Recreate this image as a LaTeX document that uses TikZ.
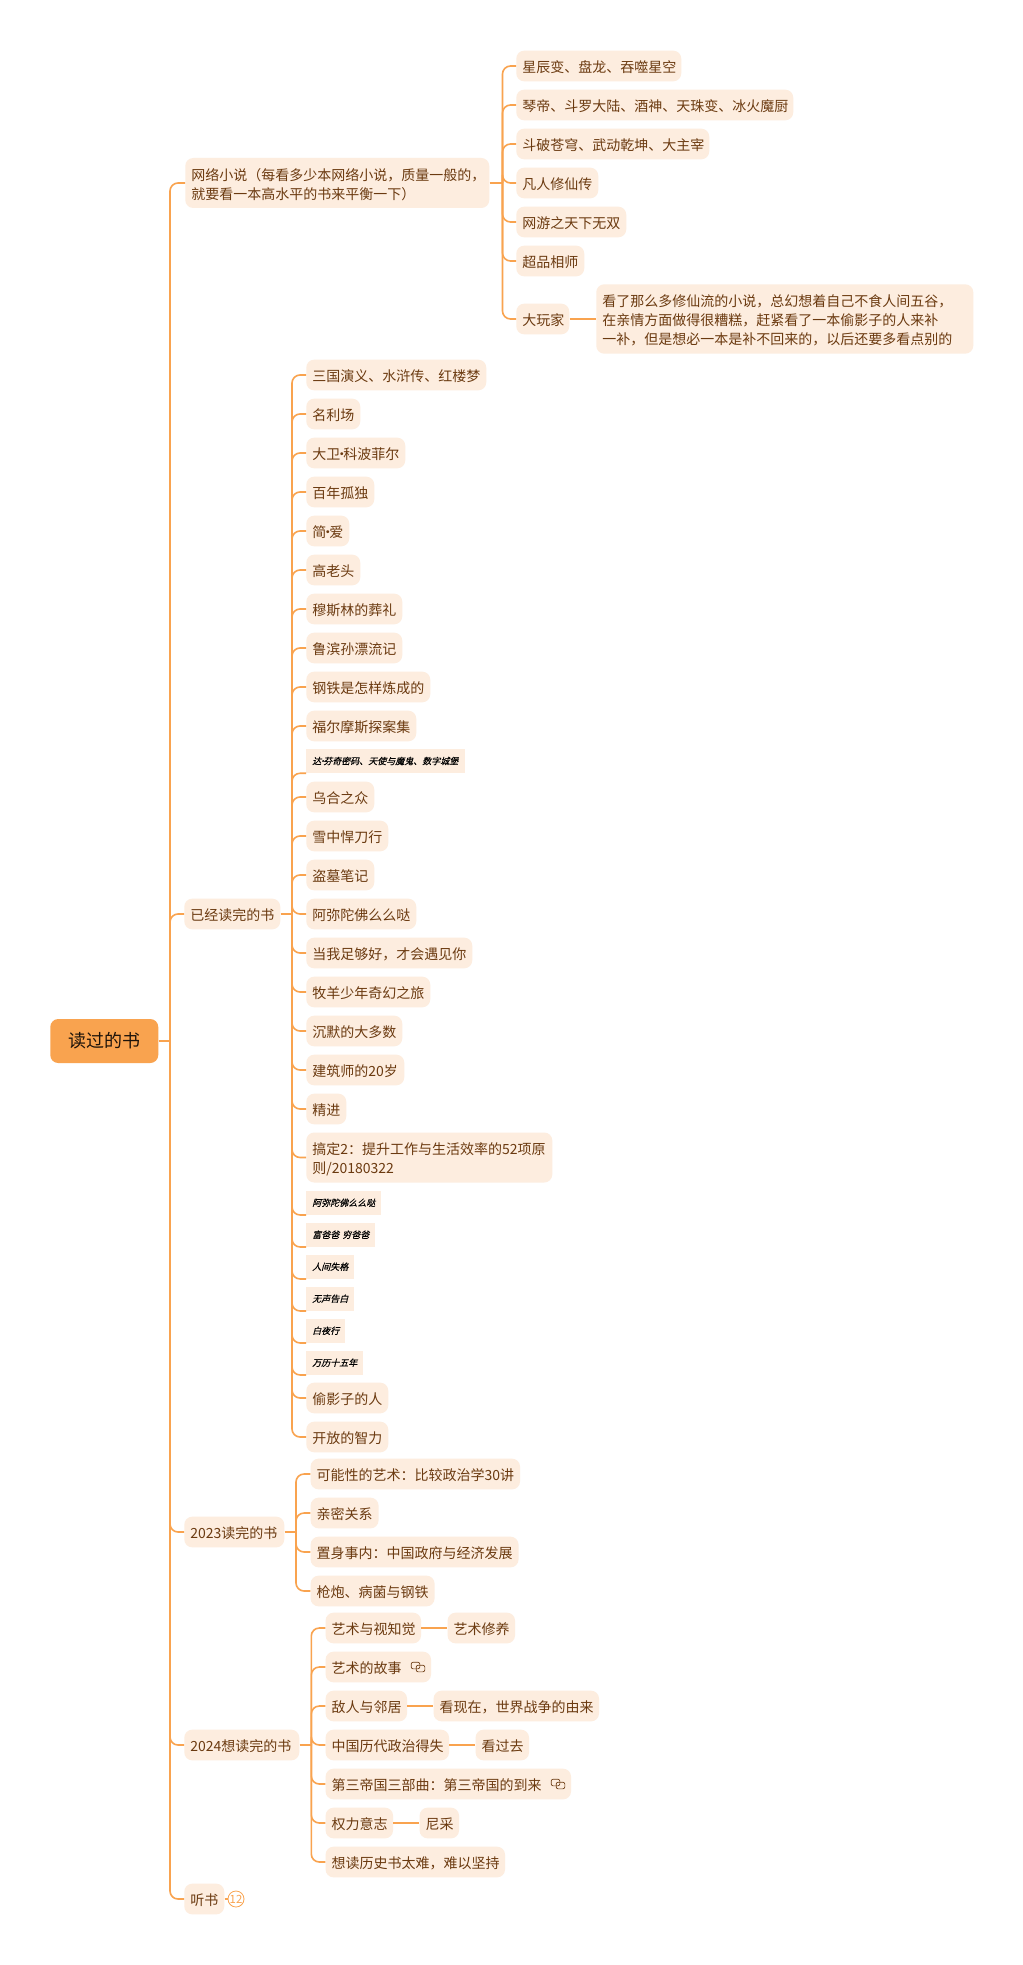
\documentclass[tikz,border=0pt]{standalone}
\usepackage{fontspec}
\setmainfont{Noto Sans CJK SC}
\newfontfamily\slantfont[FakeSlant=0.25,FakeBold=0.15]{Noto Sans CJK SC}
\usepackage{xcolor}
\definecolor{linkline}{HTML}{F9A34F}
\definecolor{boxfill}{HTML}{FDEDDF}
\definecolor{booktext}{HTML}{6B3A10}
\newcommand\bookdot{\kern-.39em·\kern-.39em}
\tikzset{
  book/.style={anchor=west, fill=boxfill, rounded corners=6pt, text=booktext, align=left,
    font=\fontsize{10.5}{14.25}\selectfont, inner xsep=4.5pt, inner ysep=0pt,
    execute at begin node={\rule{0pt}{11pt}},
    minimum height=23pt, text width=(#1-12)*0.75pt},
  oldbook/.style={anchor=west, fill=boxfill, text=black, align=left,
    font=\fontsize{6.75}{9}\slantfont, inner xsep=4.5pt, inner ysep=0pt,
    minimum height=18pt, text width=(#1-12)*0.75pt},
  branch/.style={draw=linkline, line width=1.2pt, rounded corners=6pt},
  stub/.style={draw=linkline, line width=1.5pt},
  linkicon/.style={draw=booktext, line width=0.5pt, rounded corners=1.5pt, minimum width=6.5pt, minimum height=5pt, inner sep=0pt}
}
\begin{document}
\begin{tikzpicture}[x=0.75pt,y=-0.75pt]
  \useasboundingbox[fill=white] (0,0) rectangle (1023,1965);
  % root
  \node[anchor=west, fill=linkline, rounded corners=6pt, font=\fontsize{13.5}{16}\selectfont, text=black!85!brown,
    minimum width=81pt, minimum height=33pt, inner sep=0pt] (root) at (50,1041) {读过的书};
  \coordinate (roottrunk) at (170,1041);
  % first level
  \node[book=304, minimum height=37.5pt] (web) at (185,183) {网络小说（每看多少本网络小说，质量一般的，\\就要看一本高水平的书来平衡一下）};
  \node[book=96] (read) at (184,914) {已经读完的书};
  \node[book=100] (done) at (184,1532) {2023读完的书};
  \node[book=115] (want) at (184,1745) {2024想读完的书};
  \node[book=40] (listen) at (184,1899) {听书};
  \node[circle, draw=linkline, line width=0.6pt, text=linkline, minimum size=12pt, inner sep=0pt,
    font=\fontsize{8.5}{9}\selectfont] (count) at (236,1899) {12};
  \draw[stub] (root.east) -- (roottrunk);
  \foreach \kid in {web,read,done,want,listen}
    \draw[branch] (roottrunk) |- (\kid.west);
  \draw[stub] (listen.east) -- (count.west);
  % web novels
  \coordinate (webtrunk) at (502.5,183);
  \node[book=165] (web1) at (516,66) {星辰变、盘龙、吞噬星空};
  \node[book=277] (web2) at (516,105) {琴帝、斗罗大陆、酒神、天珠变、冰火魔厨};
  \node[book=193] (web3) at (516,144) {斗破苍穹、武动乾坤、大主宰};
  \node[book=82] (web4) at (516,183) {凡人修仙传};
  \node[book=110] (web5) at (516,222) {网游之天下无双};
  \node[book=68] (web6) at (516,261) {超品相师};
  \node[book=53] (web7) at (516,319) {大玩家};
  \node[book=377, minimum height=52pt] (web7note) at (596,319) {看了那么多修仙流的小说，总幻想着自己不食人间五谷，\\在亲情方面做得很糟糕，赶紧看了一本偷影子的人来补\\一补，但是想必一本是补不回来的，以后还要多看点别的};
  \draw[stub] (web.east) -- (webtrunk);
  \foreach \kid in {web1,web2,web3,web4,web5,web6,web7}
    \draw[branch] (webtrunk) |- (\kid.west);
  \draw[stub] (web7.east) -- (web7note.west);
  % read
  \coordinate (readtrunk) at (292,914);
  \node[book=180] (read1) at (306,375) {三国演义、水浒传、红楼梦};
  \node[book=54] (read2) at (306,414) {名利场};
  \node[book=99] (read3) at (306,453) {大卫\bookdot 科波菲尔};
  \node[book=68] (read4) at (306,492) {百年孤独};
  \node[book=43] (read5) at (306,531) {简\bookdot 爱};
  \node[book=54] (read6) at (306,570) {高老头};
  \node[book=96] (read7) at (306,609) {穆斯林的葬礼};
  \node[book=96] (read8) at (306,648) {鲁滨孙漂流记};
  \node[book=124] (read9) at (306,687) {钢铁是怎样炼成的};
  \node[book=110] (read10) at (306,726) {福尔摩斯探案集};
  \node[oldbook=159] (read11) at (306,761) {达\bookdot 芬奇密码、天使与魔鬼、数字城堡};
  \node[book=68] (read12) at (306,797) {乌合之众};
  \node[book=82] (read13) at (306,836) {雪中悍刀行};
  \node[book=68] (read14) at (306,875) {盗墓笔记};
  \node[book=110] (read15) at (306,914) {阿弥陀佛么么哒};
  \node[book=166] (read16) at (306,953) {当我足够好，才会遇见你};
  \node[book=124] (read17) at (306,992) {牧羊少年奇幻之旅};
  \node[book=96] (read18) at (306,1031) {沉默的大多数};
  \node[book=98] (read19) at (306,1070) {建筑师的20岁};
  \node[book=40] (read20) at (306,1109) {精进};
  \node[book=246, minimum height=37.5pt] (read21) at (306,1157.5) {搞定2：提升工作与生活效率的52项原\\则/20180322};
  \node[oldbook=75] (read22) at (306,1202.7) {阿弥陀佛么么哒};
  \node[oldbook=69] (read23) at (306,1234.7) {富爸爸 穷爸爸};
  \node[oldbook=48] (read24) at (306,1266.7) {人间失格};
  \node[oldbook=48] (read25) at (306,1298.7) {无声告白};
  \node[oldbook=39] (read26) at (306,1330.7) {白夜行};
  \node[oldbook=57] (read27) at (306,1362.7) {万历十五年};
  \node[book=82] (read28) at (306,1398) {偷影子的人};
  \node[book=82] (read29) at (306,1437) {开放的智力};
  \draw[stub] (read.east) -- (readtrunk);
  \foreach \kid in {read1,read2,read3,read4,read5,read6,read7,read8,read9,read10,read12,read13,read14,read15,read16,read17,read18,read19,read20,read21,read28,read29}
    \draw[branch] (readtrunk) |- (\kid.west);
  \foreach \kid in {read11,read22,read23,read24,read25,read26,read27}
    \draw[branch] (readtrunk) |- (\kid.south west);
  % 2023
  \coordinate (donetrunk) at (296,1532);
  \node[book=209.5] (done1) at (310.3,1474) {可能性的艺术：比较政治学30讲};
  \node[book=68] (done2) at (310.3,1513) {亲密关系};
  \node[book=208] (done3) at (310.3,1552) {置身事内：中国政府与经济发展};
  \node[book=124] (done4) at (310.3,1591) {枪炮、病菌与钢铁};
  \draw[stub] (done.east) -- (donetrunk);
  \foreach \kid in {done1,done2,done3,done4}
    \draw[branch] (donetrunk) |- (\kid.west);
  % 2024
  \coordinate (wanttrunk) at (311.3,1745);
  \node[book=95.5] (want1) at (325.3,1628) {艺术与视知觉};
  \node[book=67.5] (want1a) at (447.3,1628) {艺术修养};
  \node[book=105.5] (want2) at (325.3,1667) {艺术的故事};
  \node[book=81.5] (want3) at (325.3,1706) {敌人与邻居};
  \node[book=165.5] (want3a) at (433.3,1706) {看现在，世界战争的由来};
  \node[book=123.5] (want4) at (325.3,1745) {中国历代政治得失};
  \node[book=53.5] (want4a) at (475.3,1745) {看过去};
  \node[book=245.5] (want5) at (325.3,1784) {第三帝国三部曲：第三帝国的到来};
  \node[book=67.5] (want6) at (325.3,1823) {权力意志};
  \node[book=39.5] (want6a) at (419.3,1823) {尼采};
  \node[book=179.5] (want7) at (325.3,1862) {想读历史书太难，难以坚持};
  \draw[stub] (want.east) -- (wanttrunk);
  \foreach \kid in {want1,want2,want3,want4,want5,want6,want7}
    \draw[branch] (wanttrunk) |- (\kid.west);
  \foreach \kid/\note in {want1/want1a,want3/want3a,want4/want4a,want6/want6a}
    \draw[stub] (\kid.east) -- (\note.west);
  % link marks
  \node[linkicon] (mark1) at (415.5,1665.5) {};
  \node[linkicon] (mark2) at (420.5,1668.5) {};
  \node[linkicon] (mark3) at (555.5,1782.5) {};
  \node[linkicon] (mark4) at (560.5,1785.5) {};
\end{tikzpicture}
\end{document}
